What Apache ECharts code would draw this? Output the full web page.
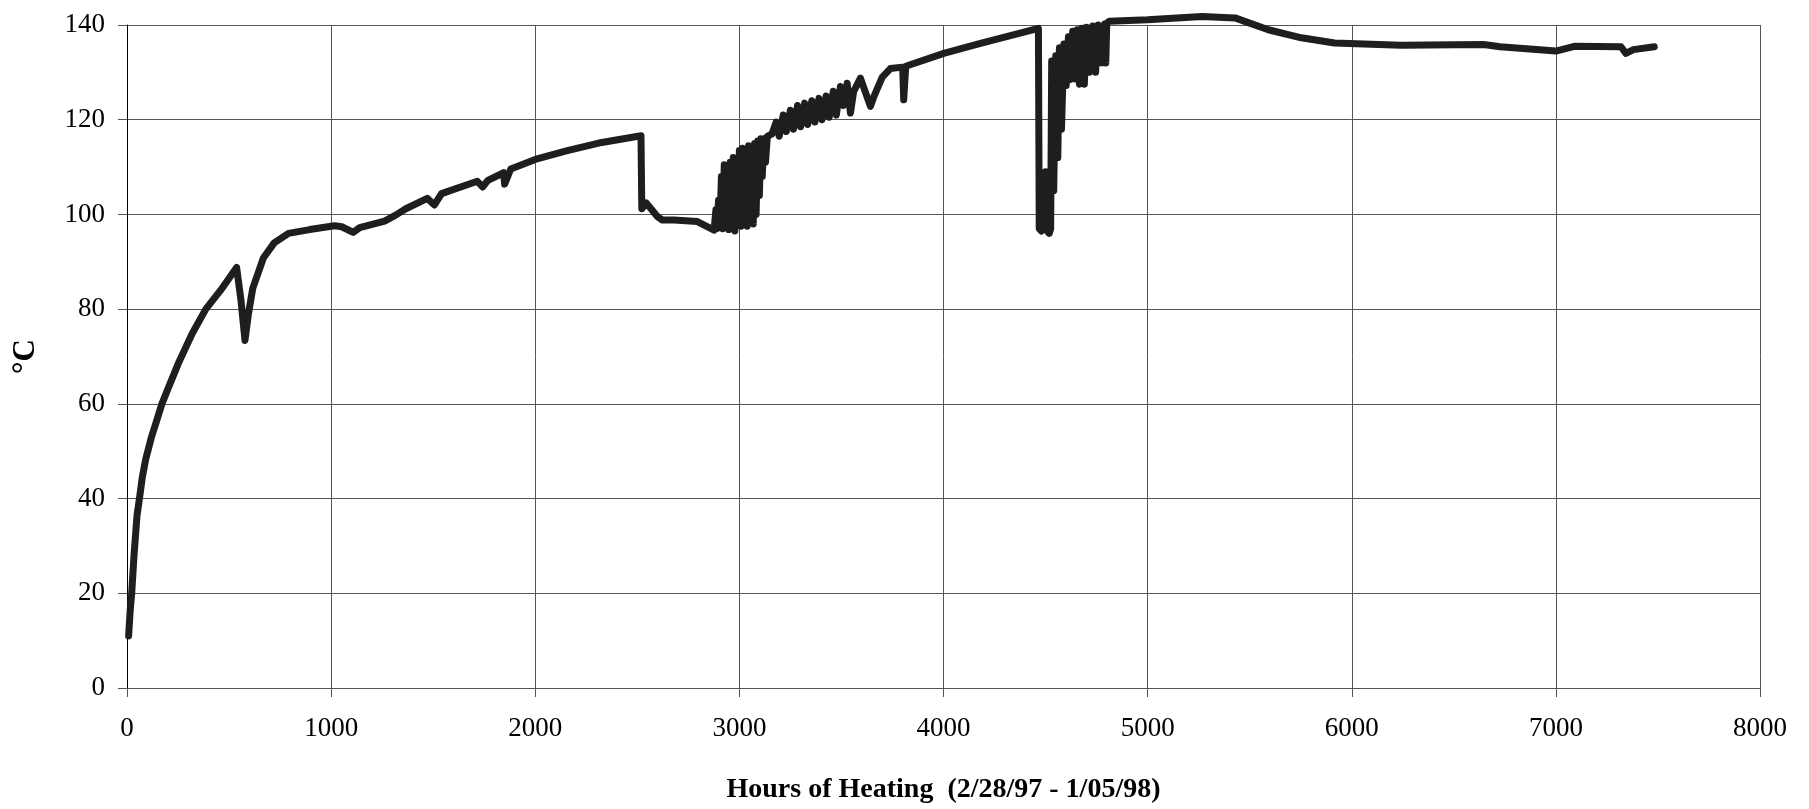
<!DOCTYPE html>
<html>
<head>
<meta charset="utf-8">
<script src="https://cdn.jsdelivr.net/npm/echarts@6/dist/echarts.min.js"></script>
<style>
  html, body { margin: 0; padding: 0; background: #fff; }
  #chart { width: 1809px; height: 809px; }
</style>
</head>
<body>
<div id="chart"></div>
<script>
// hours of heating and temperature (°C)
const hours = [
  8, 15, 23, 35, 49, 61, 75, 92, 120, 145, 171, 197, 250, 319, 386, 459, 537, 558, 578, 595, 616, 668,
  721, 791, 895, 1017, 1052, 1108, 1140, 1262, 1314, 1366, 1471, 1506, 1541, 1716, 1742, 1768, 1845, 1850, 1880, 2000,
  2152, 2326, 2518, 2522, 2544, 2597, 2623, 2680, 2794, 2876,
  2885, 2890, 2898, 2905, 2912, 2918, 2926, 2933, 2940, 2948, 2955, 2962, 2970, 2978, 2985, 2993, 3000, 3008, 3015, 3022,
  3030, 3038, 3045, 3052, 3060, 3068, 3075, 3082, 3090, 3098, 3105, 3112, 3120, 3128, 3137,
  3160, 3180, 3195, 3215, 3230, 3250, 3265, 3285, 3300, 3320, 3335, 3355, 3370, 3390, 3405, 3425, 3440, 3460, 3475, 3495,
  3510, 3528, 3544, 3560, 3593, 3600, 3642, 3660, 3700, 3740, 3800, 3805, 3812, 3815, 4001, 4181, 4465,
  4467, 4469, 4480, 4490, 4500, 4508, 4518, 4525, 4530, 4540, 4550, 4560, 4568, 4578, 4590, 4601, 4612, 4622, 4633, 4645,
  4655, 4666, 4678, 4690, 4700, 4715, 4731, 4745, 4758, 4775, 4790, 4795, 4800, 4812,
  5000, 5266, 5428, 5591, 5753, 5916, 6240, 6646, 6727, 7000, 7090, 7319, 7343, 7380, 7482
];
const temps = [
  11, 16, 20, 28.4, 36.4, 40, 44.5, 48.4, 53, 56.4, 60, 62.8, 68.4, 74.8, 80, 84, 88.8, 82, 73.4, 79, 84.4, 90.8,
  94, 96, 96.8, 97.6, 97.4, 96.2, 97.2, 98.6, 99.8, 101.2, 103.4, 102, 104.4, 107, 105.8, 107.2, 108.8, 106.4, 109.6, 111.6,
  113.4, 115.2, 116.6, 101.2, 102.4, 99.6, 98.8, 98.8, 98.5, 96.7,
  101, 97, 103, 97.5, 108, 97, 110.5, 97.5, 109, 96.8, 111, 97.5, 112, 96.5, 110, 98, 113.5, 97.5, 114, 99,
  113, 97.5, 114.5, 98.5, 114, 98, 115, 100, 115.5, 104, 116, 108, 116, 111, 116.5,
  117, 119.5, 116.5, 121, 117.5, 122, 118, 123, 118.5, 123.5, 119, 124, 119.5, 124.5, 120, 125, 120.5, 126, 121, 127,
  123, 127.7, 121.4, 126, 128.8, 128.9, 122.8, 125, 129, 130.8, 131.1, 124.2, 124.2, 131.3, 134, 136.1, 139.3,
  139.5, 97, 96.5, 97, 109, 96.5, 96, 97, 132.4, 105, 133.5, 112, 135.2, 118, 136, 127.2, 137.5, 128.5, 138.7, 128.6,
  139, 127.5, 139.3, 127.5, 139.5, 130, 139.8, 130, 140, 132, 140.2, 132, 140.4, 140.8,
  141.1, 141.8, 141.5, 139, 137.3, 136.2, 135.7, 135.9, 135.4, 134.5, 135.5, 135.4, 134, 134.8, 135.4
];
const xTicks = { min: 0, max: 8000, step: 1000 };
const yTicks = { min: 0, max: 140, step: 20 };

const serif = "'Liberation Serif', 'Times New Roman', serif";
const gridLine = { show: true, lineStyle: { color: '#555', width: 1 } };

let chart = echarts.init(document.getElementById('chart'));
chart.setOption({
  animation: false,
  backgroundColor: '#fff',
  grid: { left: 127, right: 49, top: 25, bottom: 114 },
  xAxis: {
    type: 'value',
    min: xTicks.min, max: xTicks.max, interval: xTicks.step,
    name: 'Hours of Heating  (2/28/97 - 1/05/98)',
    nameLocation: 'middle',
    nameGap: 88,
    nameTextStyle: { fontFamily: serif, fontSize: 28, fontWeight: 'bold', color: '#000' },
    axisLine: { show: true, onZero: false, lineStyle: { color: '#555', width: 1 } },
    axisTick: { show: true, inside: false, length: 9, lineStyle: { color: '#555' } },
    axisLabel: { fontFamily: serif, fontSize: 27, color: '#000', margin: 27, formatter: v => String(v) },
    splitLine: gridLine
  },
  yAxis: {
    type: 'value',
    min: yTicks.min, max: yTicks.max, interval: yTicks.step,
    name: '°C',
    nameLocation: 'middle',
    nameRotate: 90,
    nameGap: 86,
    nameTextStyle: { fontFamily: serif, fontSize: 31, fontWeight: 'bold', color: '#000' },
    axisLine: { show: true, lineStyle: { color: '#000', width: 1 } },
    axisTick: { show: true, inside: false, length: 9, lineStyle: { color: '#555' } },
    axisLabel: { fontFamily: serif, fontSize: 27, color: '#000', margin: 22 },
    splitLine: gridLine
  },
  series: [
    {
      type: 'line',
      data: hours.map((h, i) => [h, temps[i]]),
      showSymbol: false,
      clip: false,
      smooth: false,
      lineStyle: { color: '#1e1e1e', width: 7, join: 'round', cap: 'round' }
    }
  ]
});
</script>
</body>
</html>
